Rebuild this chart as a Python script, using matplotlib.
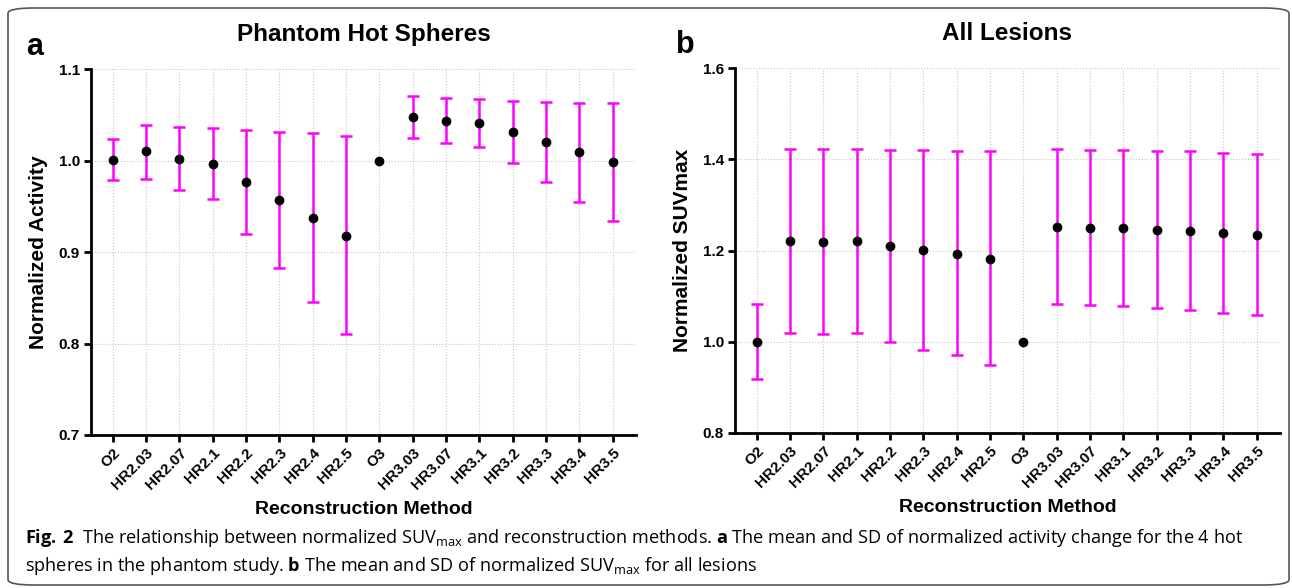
import matplotlib
matplotlib.use('Agg')
import matplotlib.pyplot as plt
from matplotlib.patches import FancyBboxPatch

plt.rcParams['font.family'] = ['Liberation Sans', 'DejaVu Sans']
plt.rcParams['mathtext.fontset'] = 'custom'
plt.rcParams['mathtext.rm'] = 'Open Sans'
plt.rcParams['mathtext.bf'] = 'Open Sans:bold'

methods = ['O2', 'HR2.03', 'HR2.07', 'HR2.1', 'HR2.2', 'HR2.3', 'HR2.4', 'HR2.5',
           'O3', 'HR3.03', 'HR3.07', 'HR3.1', 'HR3.2', 'HR3.3', 'HR3.4', 'HR3.5']

# phantom hot spheres: mean, lower and upper end of SD bar (None = no bar)
phantom_mean = [1.001, 1.010, 1.002, 0.996, 0.976, 0.957, 0.937, 0.918,
                1.000, 1.048, 1.043, 1.041, 1.031, 1.020, 1.009, 0.998]
phantom_low = [0.979, 0.980, 0.968, 0.958, 0.920, 0.883, 0.845, 0.810,
               None, 1.025, 1.019, 1.015, 0.997, 0.977, 0.955, 0.934]
phantom_high = [1.024, 1.039, 1.037, 1.036, 1.033, 1.031, 1.030, 1.027,
                None, 1.071, 1.068, 1.067, 1.065, 1.064, 1.063, 1.063]

# all lesions
lesion_mean = [1.000, 1.221, 1.218, 1.220, 1.209, 1.201, 1.193, 1.182,
               1.000, 1.251, 1.250, 1.249, 1.246, 1.242, 1.238, 1.235]
lesion_low = [0.918, 1.020, 1.016, 1.019, 0.999, 0.983, 0.971, 0.950,
              None, 1.082, 1.080, 1.078, 1.074, 1.069, 1.064, 1.059]
lesion_high = [1.083, 1.423, 1.422, 1.422, 1.420, 1.420, 1.418, 1.418,
               None, 1.423, 1.421, 1.420, 1.418, 1.417, 1.414, 1.412]


def draw_panel(ax, mean, low, high, ylim, yticks, title, ylabel):
    x = list(range(len(methods)))
    for i in x:
        if low[i] is None:
            continue
        ax.errorbar(i, mean[i], yerr=[[mean[i] - low[i]], [high[i] - mean[i]]],
                    fmt='none', ecolor='#ff00ff', elinewidth=1.8, capsize=4.5,
                    capthick=1.8, zorder=2)
    ax.plot(x, mean, 'o', color='black', markersize=6, zorder=3)

    ax.set_xlim(-0.65, 15.7)
    ax.set_ylim(*ylim)
    ax.set_yticks(yticks)
    ax.set_yticklabels([f'{t:.1f}' for t in yticks], fontsize=11, fontweight='bold')
    ax.set_xticks(x)
    ax.set_xticklabels(methods, rotation=45, ha='right', rotation_mode='anchor',
                       fontsize=11, fontweight='bold')
    ax.grid(True, color='#c8c8c8', linestyle=':', linewidth=0.8, zorder=0)
    ax.set_axisbelow(True)
    for side in ['top', 'right']:
        ax.spines[side].set_visible(False)
    for side in ['left', 'bottom']:
        ax.spines[side].set_linewidth(2)
    ax.tick_params(axis='both', width=2, length=5, direction='out', pad=3)
    ax.set_title(title, fontsize=17.5, fontweight='bold', pad=20)
    ax.set_ylabel(ylabel, fontsize=15, fontweight='bold', labelpad=8)
    ax.set_xlabel('Reconstruction Method', fontsize=14, fontweight='bold', labelpad=6)


fig = plt.figure(figsize=(12.92, 5.88), dpi=100)

frame = FancyBboxPatch((8 / 1292, 3 / 588), 1281 / 1292, 577 / 588,
                       boxstyle='round,pad=0,rounding_size=0.02',
                       transform=fig.transFigure, facecolor='none',
                       edgecolor='#555555', linewidth=1.2, mutation_aspect=588 / 1292)
fig.patches.append(frame)

ax_a = fig.add_axes([91 / 1292, 1 - 435 / 588, 545 / 1292, 366 / 588])
draw_panel(ax_a, phantom_mean, phantom_low, phantom_high, (0.7, 1.1),
           [0.7, 0.8, 0.9, 1.0, 1.1], 'Phantom Hot Spheres', 'Normalized Activity')

ax_b = fig.add_axes([735 / 1292, 1 - 433 / 588, 545 / 1292, 365 / 588])
draw_panel(ax_b, lesion_mean, lesion_low, lesion_high, (0.8, 1.6),
           [0.8, 1.0, 1.2, 1.4, 1.6], 'All Lesions', 'Normalized SUVmax')

fig.text(26 / 1292, 1 - 47 / 588, 'a', fontsize=22, fontweight='bold', va='center')
fig.text(676 / 1292, 1 - 45 / 588, 'b', fontsize=22, fontweight='bold', va='center')

line1 = (r'$\mathbf{Fig.}\,\mathbf{2}$  The relationship between normalized SUV$_{\mathrm{max}}$ '
         r'and reconstruction methods. $\mathbf{a}$ The mean and SD of normalized '
         r'activity change for the 4 hot')
line2 = (r'spheres in the phantom study. $\mathbf{b}$ The mean and SD of normalized '
         r'SUV$_{\mathrm{max}}$ for all lesions')
fig.text(25 / 1292, 1 - 538 / 588, line1, fontsize=13.1, family='Open Sans',
         va='center', color='black')
fig.text(25 / 1292, 1 - 566 / 588, line2, fontsize=13.1, family='Open Sans',
         va='center', color='black')

fig.savefig('out.png', dpi=100)
